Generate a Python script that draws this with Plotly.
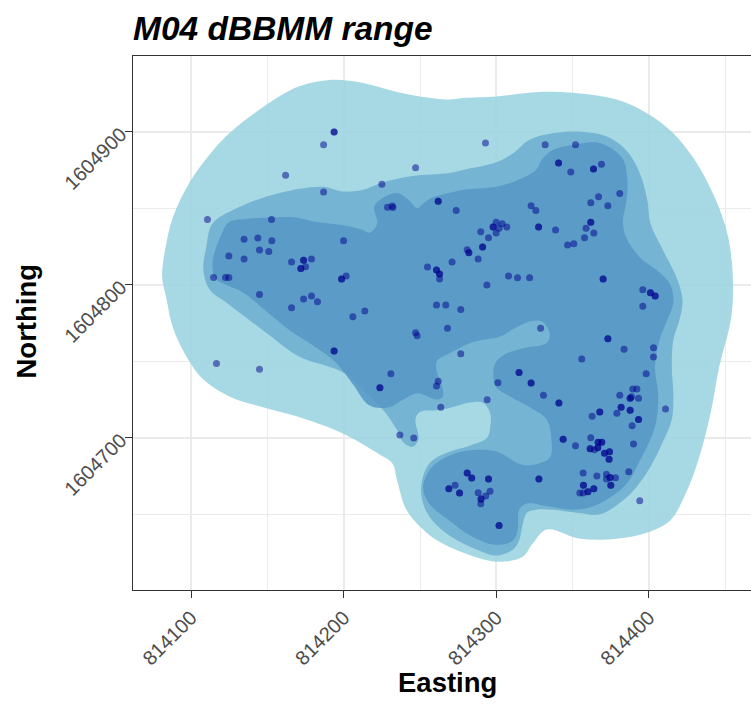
import numpy as np
import plotly.graph_objects as go

# ---------------- data ----------------
title_text = "M04 dBBMM range"
x_title = "Easting"
y_title = "Northing"

x_ticks = [814100, 814200, 814300, 814400]
y_ticks = [1604700, 1604800, 1604900]
x_minor = [814050, 814150, 814250, 814350, 814450]
y_minor = [1604650, 1604750, 1604850, 1604950]

# utilisation-distribution contour polygons (Easting / Northing)
outer_east = [814081, 814083, 814088, 814099, 814112, 814125, 814147, 814169, 814184, 814195,
              814212, 814235, 814250, 814269, 814278, 814300, 814328, 814355, 814379, 814399,
              814416, 814431, 814444, 814452, 814455, 814454, 814446, 814440, 814431, 814422,
              814414, 814399, 814379, 814355, 814333, 814324, 814317, 814300, 814278, 814261,
              814252, 814241, 814235, 814232, 814222, 814199, 814169, 814147, 814125, 814108,
              814097, 814088, 814084]
outer_north = [1604805, 1604823, 1604844, 1604867, 1604885, 1604899, 1604916, 1604929, 1604933, 1604934,
               1604932, 1604926, 1604923, 1604921, 1604922, 1604923, 1604926, 1604925, 1604921, 1604912,
               1604899, 1604880, 1604855, 1604831, 1604805, 1604779, 1604746, 1604714, 1604681, 1604659,
               1604646, 1604638, 1604634, 1604634, 1604640, 1604631, 1604622, 1604619, 1604625, 1604633,
               1604640, 1604653, 1604672, 1604683, 1604690, 1604703, 1604714, 1604720, 1604727, 1604738,
               1604753, 1604772, 1604790]

mid_east = [814114, 814132, 814158, 814186, 814199, 814212, 814226, 814245, 814269, 814278,
            814300, 814311, 814322, 814337, 814355, 814372, 814385, 814394, 814399, 814401,
            814409, 814418, 814422, 814420, 814416, 814415, 814416, 814415, 814409, 814401,
            814392, 814383, 814368, 814353, 814337, 814326, 814320, 814317, 814315, 814311,
            814300, 814287, 814271, 814258, 814252, 814251, 814256, 814267, 814283, 814294,
            814296, 814296, 814291, 814283, 814271, 814261, 814250, 814247, 814249, 814245,
            814239, 814235, 814226, 814215, 814199, 814171, 814150, 814125, 814112, 814108,
            814110]
mid_north = [1604840, 1604851, 1604860, 1604864, 1604861, 1604862, 1604867, 1604871, 1604873, 1604875,
             1604880, 1604886, 1604895, 1604899, 1604900, 1604897, 1604888, 1604873, 1604855, 1604840,
             1604823, 1604805, 1604790, 1604777, 1604764, 1604746, 1604729, 1604712, 1604697, 1604681,
             1604668, 1604659, 1604650, 1604651, 1604653, 1604653, 1604651, 1604642, 1604633, 1604627,
             1604623, 1604627, 1604635, 1604646, 1604657, 1604670, 1604683, 1604690, 1604695, 1604700,
             1604707, 1604716, 1604723, 1604723, 1604720, 1604718, 1604717, 1604712, 1604699, 1604694,
             1604697, 1604705, 1604718, 1604729, 1604743, 1604753, 1604768, 1604787, 1604797, 1604810,
             1604825]

inner_east = [814119, 814125, 814136, 814152, 814169, 814182, 814199, 814212, 814217, 814222,
              814220, 814226, 814235, 814243, 814248, 814252, 814258, 814269, 814278, 814300,
              814313, 814326, 814330, 814337, 814348, 814366, 814374, 814383, 814386, 814385,
              814383, 814385, 814394, 814407, 814414, 814416, 814412, 814407, 814404, 814406,
              814405, 814401, 814394, 814387, 814379, 814363, 814350, 814335, 814320, 814315,
              814314, 814311, 814300, 814285, 814269, 814256, 814252, 814258, 814271, 814285,
              814300, 814315, 814322, 814335, 814336, 814333, 814322, 814309, 814300, 814298,
              814299, 814302, 814309, 814320, 814333, 814335, 814330, 814322, 814313, 814302,
              814291, 814283, 814269, 814261, 814261, 814264, 814265, 814261, 814248, 814239,
              814230, 814217, 814206, 814195, 814182, 814165, 814150, 814134, 814123, 814116,
              814114]
inner_north = [1604831, 1604841, 1604843, 1604844, 1604844, 1604841, 1604839, 1604836, 1604834, 1604840,
               1604851, 1604857, 1604860, 1604855, 1604850, 1604853, 1604857, 1604860, 1604862, 1604864,
               1604868, 1604875, 1604882, 1604888, 1604891, 1604893, 1604890, 1604882, 1604866, 1604853,
               1604842, 1604831, 1604818, 1604808, 1604800, 1604788, 1604777, 1604764, 1604746, 1604729,
               1604712, 1604699, 1604685, 1604672, 1604664, 1604655, 1604653, 1604655, 1604657, 1604653,
               1604640, 1604633, 1604630, 1604635, 1604646, 1604657, 1604668, 1604681, 1604689, 1604692,
               1604691, 1604683, 1604682, 1604687, 1604700, 1604712, 1604720, 1604727, 1604733, 1604741,
               1604748, 1604752, 1604756, 1604759, 1604762, 1604768, 1604776, 1604776, 1604772, 1604766,
               1604764, 1604762, 1604755, 1604750, 1604743, 1604735, 1604727, 1604725, 1604729, 1604725,
               1604720, 1604721, 1604735, 1604749, 1604759, 1604770, 1604782, 1604795, 1604800, 1604804,
               1604814]

# relocation fixes (count = number of fixes at the same spot)
fix_east = [
    814193.7, 814186.8, 814161.9, 814247.1, 814225.0, 814186.8, 814228.7, 814231.8, 814232.2, 814261.9,
    814110.7, 814152.7, 814134.7, 814143.7, 814152.9, 814199.9, 814144.8, 814150.9, 814124.7, 814134.7,
    814165.8, 814173.7, 814178.9, 814175.0, 814171.9, 814114.7, 814122.5, 814124.7, 814201.6, 814198.6,
    814254.9, 814260.8, 814262.8, 814262.8, 814144.8, 814165.8, 814173.7, 814178.9, 814182.8, 814206.0,
    814213.8, 814260.8, 814266.9, 814271.0, 814292.9, 814332.0, 814351.9, 814340.8, 814348.8, 814363.7,
    814368.9, 814380.9, 814367.0, 814361.9, 814373.1, 814273.7, 814322.8, 814325.9, 814361.9, 814358.8,
    814363.9, 814357.8, 814346.7, 814350.8, 814327.7, 814338.8, 814299.9, 814303.8, 814297.9, 814301.8,
    814306.9, 814289.8, 814294.9, 814299.9, 814291.0, 814280.9, 814282.0, 814288.1, 814308.0, 814313.9,
    814321.8, 814370.0, 814293.8, 814396.0, 814401.0, 814404.1, 814396.0, 814276.7, 814268.0, 814329.0,
    814116.6, 814144.8, 814193.7, 814247.1, 814248.1, 814230.9, 814223.7, 814261.9, 814260.8, 814263.6,
    814236.8, 814245.9, 814276.7, 814294.0, 814301.0, 814314.9, 814322.8, 814330.9, 814341.0, 814343.8,
    814280.9, 814283.9, 814294.9, 814273.0, 814268.9, 814275.9, 814288.1, 814293.1, 814295.9, 814290.0,
    814289.8, 814301.8, 814327.9, 814373.1, 814383.7, 814403.0, 814403.0, 814356.0, 814398.2, 814380.9,
    814389.4, 814392.1, 814388.6, 814387.7, 814393.2, 814410.9, 814381.8, 814379.0, 814367.8, 814362.8,
    814387.7, 814393.2, 814389.0, 814351.9, 814361.9, 814366.7, 814369.1, 814361.5, 814364.3, 814366.5,
    814370.9, 814374.2, 814373.9, 814389.9, 814356.9, 814365.9, 814372.2, 814372.2, 814374.6, 814378.1,
    814386.8, 814357.1, 814375.0, 814363.9, 814360.0, 814354.7, 814356.9, 814394.0]
fix_north = [
    1604899.8, 1604891.5, 1604871.5, 1604876.5, 1604865.6, 1604860.6, 1604850.6, 1604851.4, 1604850.5, 1604854.5,
    1604842.7, 1604842.7, 1604829.7, 1604830.5, 1604828.8, 1604828.8, 1604822.7, 1604821.8, 1604818.8, 1604816.8,
    1604814.8, 1604816.0, 1604816.8, 1604811.8, 1604810.7, 1604804.8, 1604804.8, 1604804.8, 1604805.7, 1604803.7,
    1604811.6, 1604809.6, 1604807.0, 1604803.7, 1604793.7, 1604785.0, 1604790.7, 1604792.6, 1604788.9, 1604779.1,
    1604782.8, 1604786.7, 1604786.7, 1604814.8, 1604892.6, 1604891.5, 1604891.5, 1604879.5, 1604873.7, 1604875.6,
    1604878.7, 1604859.7, 1604857.5, 1604853.6, 1604851.6, 1604848.6, 1604851.6, 1604848.6, 1604840.8, 1604836.9,
    1604833.8, 1604830.7, 1604825.9, 1604826.8, 1604837.7, 1604835.8, 1604840.8, 1604839.9, 1604837.7, 1604836.9,
    1604837.7, 1604834.6, 1604830.7, 1604833.8, 1604824.6, 1604822.9, 1604820.9, 1604816.8, 1604805.7, 1604804.6,
    1604804.6, 1604803.7, 1604799.8, 1604796.7, 1604794.8, 1604792.6, 1604785.9, 1604783.9, 1604771.5, 1604771.5,
    1604748.6, 1604744.7, 1604756.7, 1604768.6, 1604766.7, 1604741.8, 1604732.7, 1604736.9, 1604733.8, 1604719.9,
    1604701.8, 1604699.8, 1604754.9, 1604724.8, 1604736.0, 1604742.7, 1604735.8, 1604727.7, 1604722.7, 1604699.0,
    1604676.9, 1604673.7, 1604673.0, 1604668.9, 1604666.7, 1604663.9, 1604664.1, 1604661.9, 1604665.0, 1604659.9,
    1604656.9, 1604642.7, 1604673.0, 1604764.7, 1604757.8, 1604758.8, 1604752.7, 1604751.4, 1604741.8, 1604727.7,
    1604731.8, 1604731.8, 1604726.8, 1604725.8, 1604725.8, 1604718.8, 1604719.9, 1604716.0, 1604716.8, 1604714.0,
    1604717.9, 1604712.0, 1604707.8, 1604694.8, 1604700.0, 1604697.0, 1604697.0, 1604692.8, 1604692.2, 1604693.5,
    1604689.8, 1604690.9, 1604685.9, 1604695.9, 1604676.9, 1604675.0, 1604676.1, 1604673.0, 1604674.1, 1604673.9,
    1604677.8, 1604668.9, 1604668.9, 1604666.7, 1604664.7, 1604663.9, 1604663.9, 1604658.8]
fix_count = [
    2, 1, 1, 1, 1, 1, 1, 1, 1, 2,
    1, 1, 1, 1, 1, 1, 1, 1, 1, 1,
    1, 2, 1, 1, 2, 1, 1, 1, 1, 2,
    1, 2, 2, 1, 1, 1, 1, 1, 1, 1,
    1, 1, 1, 1, 1, 1, 1, 2, 1, 2,
    1, 1, 1, 1, 1, 1, 1, 1, 2, 1,
    1, 1, 1, 1, 2, 1, 1, 1, 2, 1,
    1, 1, 1, 1, 2, 1, 2, 1, 1, 1,
    1, 2, 1, 1, 2, 2, 1, 1, 1, 1,
    1, 1, 2, 1, 1, 1, 2, 1, 1, 1,
    1, 1, 1, 1, 1, 2, 2, 1, 2, 2,
    2, 2, 2, 1, 2, 2, 1, 1, 1, 2,
    1, 2, 2, 2, 1, 1, 1, 1, 1, 1,
    1, 1, 1, 2, 1, 1, 2, 1, 2, 1,
    2, 2, 1, 1, 1, 2, 2, 2, 1, 2,
    2, 2, 2, 1, 1, 1, 1, 1, 2, 1,
    1, 2, 2, 2, 2, 1, 1, 1]

# ---------------- figure ----------------
W, H = 751, 704
L, R, T, B = 133, 0, 56, 114
pw, ph = W - L - R, H - T - B


def px(xp):
    return (xp - L) / pw


def py(yp):
    return (H - B - yp) / ph


fig = go.Figure()


def add_poly(ex, ny, color):
    ex = list(ex) + [ex[0]]
    ny = list(ny) + [ny[0]]
    fig.add_trace(go.Scatter(x=ex, y=ny, mode="lines", fill="toself",
                             fillcolor=color,
                             line=dict(width=0, shape="spline", smoothing=1.0, color=color),
                             hoverinfo="skip", showlegend=False))


add_poly(outer_east, outer_north, "rgba(154,211,224,0.87)")
add_poly(mid_east, mid_north, "rgba(110,175,208,0.87)")
add_poly(inner_east, inner_north, "rgba(86,152,198,0.87)")

pe = np.repeat(np.array(fix_east), fix_count)
pn = np.repeat(np.array(fix_north), fix_count)
fig.add_trace(go.Scatter(x=pe, y=pn, mode="markers",
                         marker=dict(size=7, color="rgba(0,0,139,0.5)", line=dict(width=0)),
                         showlegend=False, hoverinfo="skip"))

FONT = "Liberation Sans, Arial, Helvetica, sans-serif"
axis_common = dict(
    showline=True, linecolor="#333333", linewidth=1.3,
    ticks="outside", ticklen=7, tickwidth=1.3, tickcolor="#333333",
    showgrid=True, gridcolor="#EBEBEB", gridwidth=1.6,
    zeroline=False, tickangle=-45,
    tickfont=dict(family=FONT, size=20, color="#4D4D4D"),
)

fig.update_xaxes(range=[814061.9, 814466.9], tickvals=x_ticks,
                 ticktext=[str(v) for v in x_ticks], mirror=True,
                 minor=dict(tickvals=x_minor, showgrid=True, gridcolor="#EBEBEB",
                            gridwidth=0.8, ticks=""),
                 **axis_common)
fig.update_yaxes(range=[1604600.5, 1604949.5], tickvals=y_ticks,
                 ticktext=[str(v) for v in y_ticks], mirror=False,
                 minor=dict(tickvals=y_minor, showgrid=True, gridcolor="#EBEBEB",
                            gridwidth=0.8, ticks=""),
                 **axis_common)

fig.update_layout(
    width=W, height=H,
    margin=dict(l=L, r=R, t=T, b=B, pad=0),
    plot_bgcolor="white", paper_bgcolor="white",
    showlegend=False,
    annotations=[
        dict(text="<b><i>" + title_text + "</i></b>", xref="paper", yref="paper",
             x=px(131), y=py(28), xanchor="left", yanchor="middle", showarrow=False,
             font=dict(family=FONT, size=33.5, color="black")),
        dict(text="<b>" + x_title + "</b>", xref="paper", yref="paper",
             x=px(447.5), y=py(682), xanchor="center", yanchor="middle", showarrow=False,
             font=dict(family=FONT, size=27.5, color="black")),
        dict(text="<b>" + y_title + "</b>", xref="paper", yref="paper",
             x=px(26), y=py(321.5), xanchor="center", yanchor="middle", showarrow=False,
             textangle=-90, font=dict(family=FONT, size=27.5, color="black")),
    ],
)

fig.write_html("out.html")
